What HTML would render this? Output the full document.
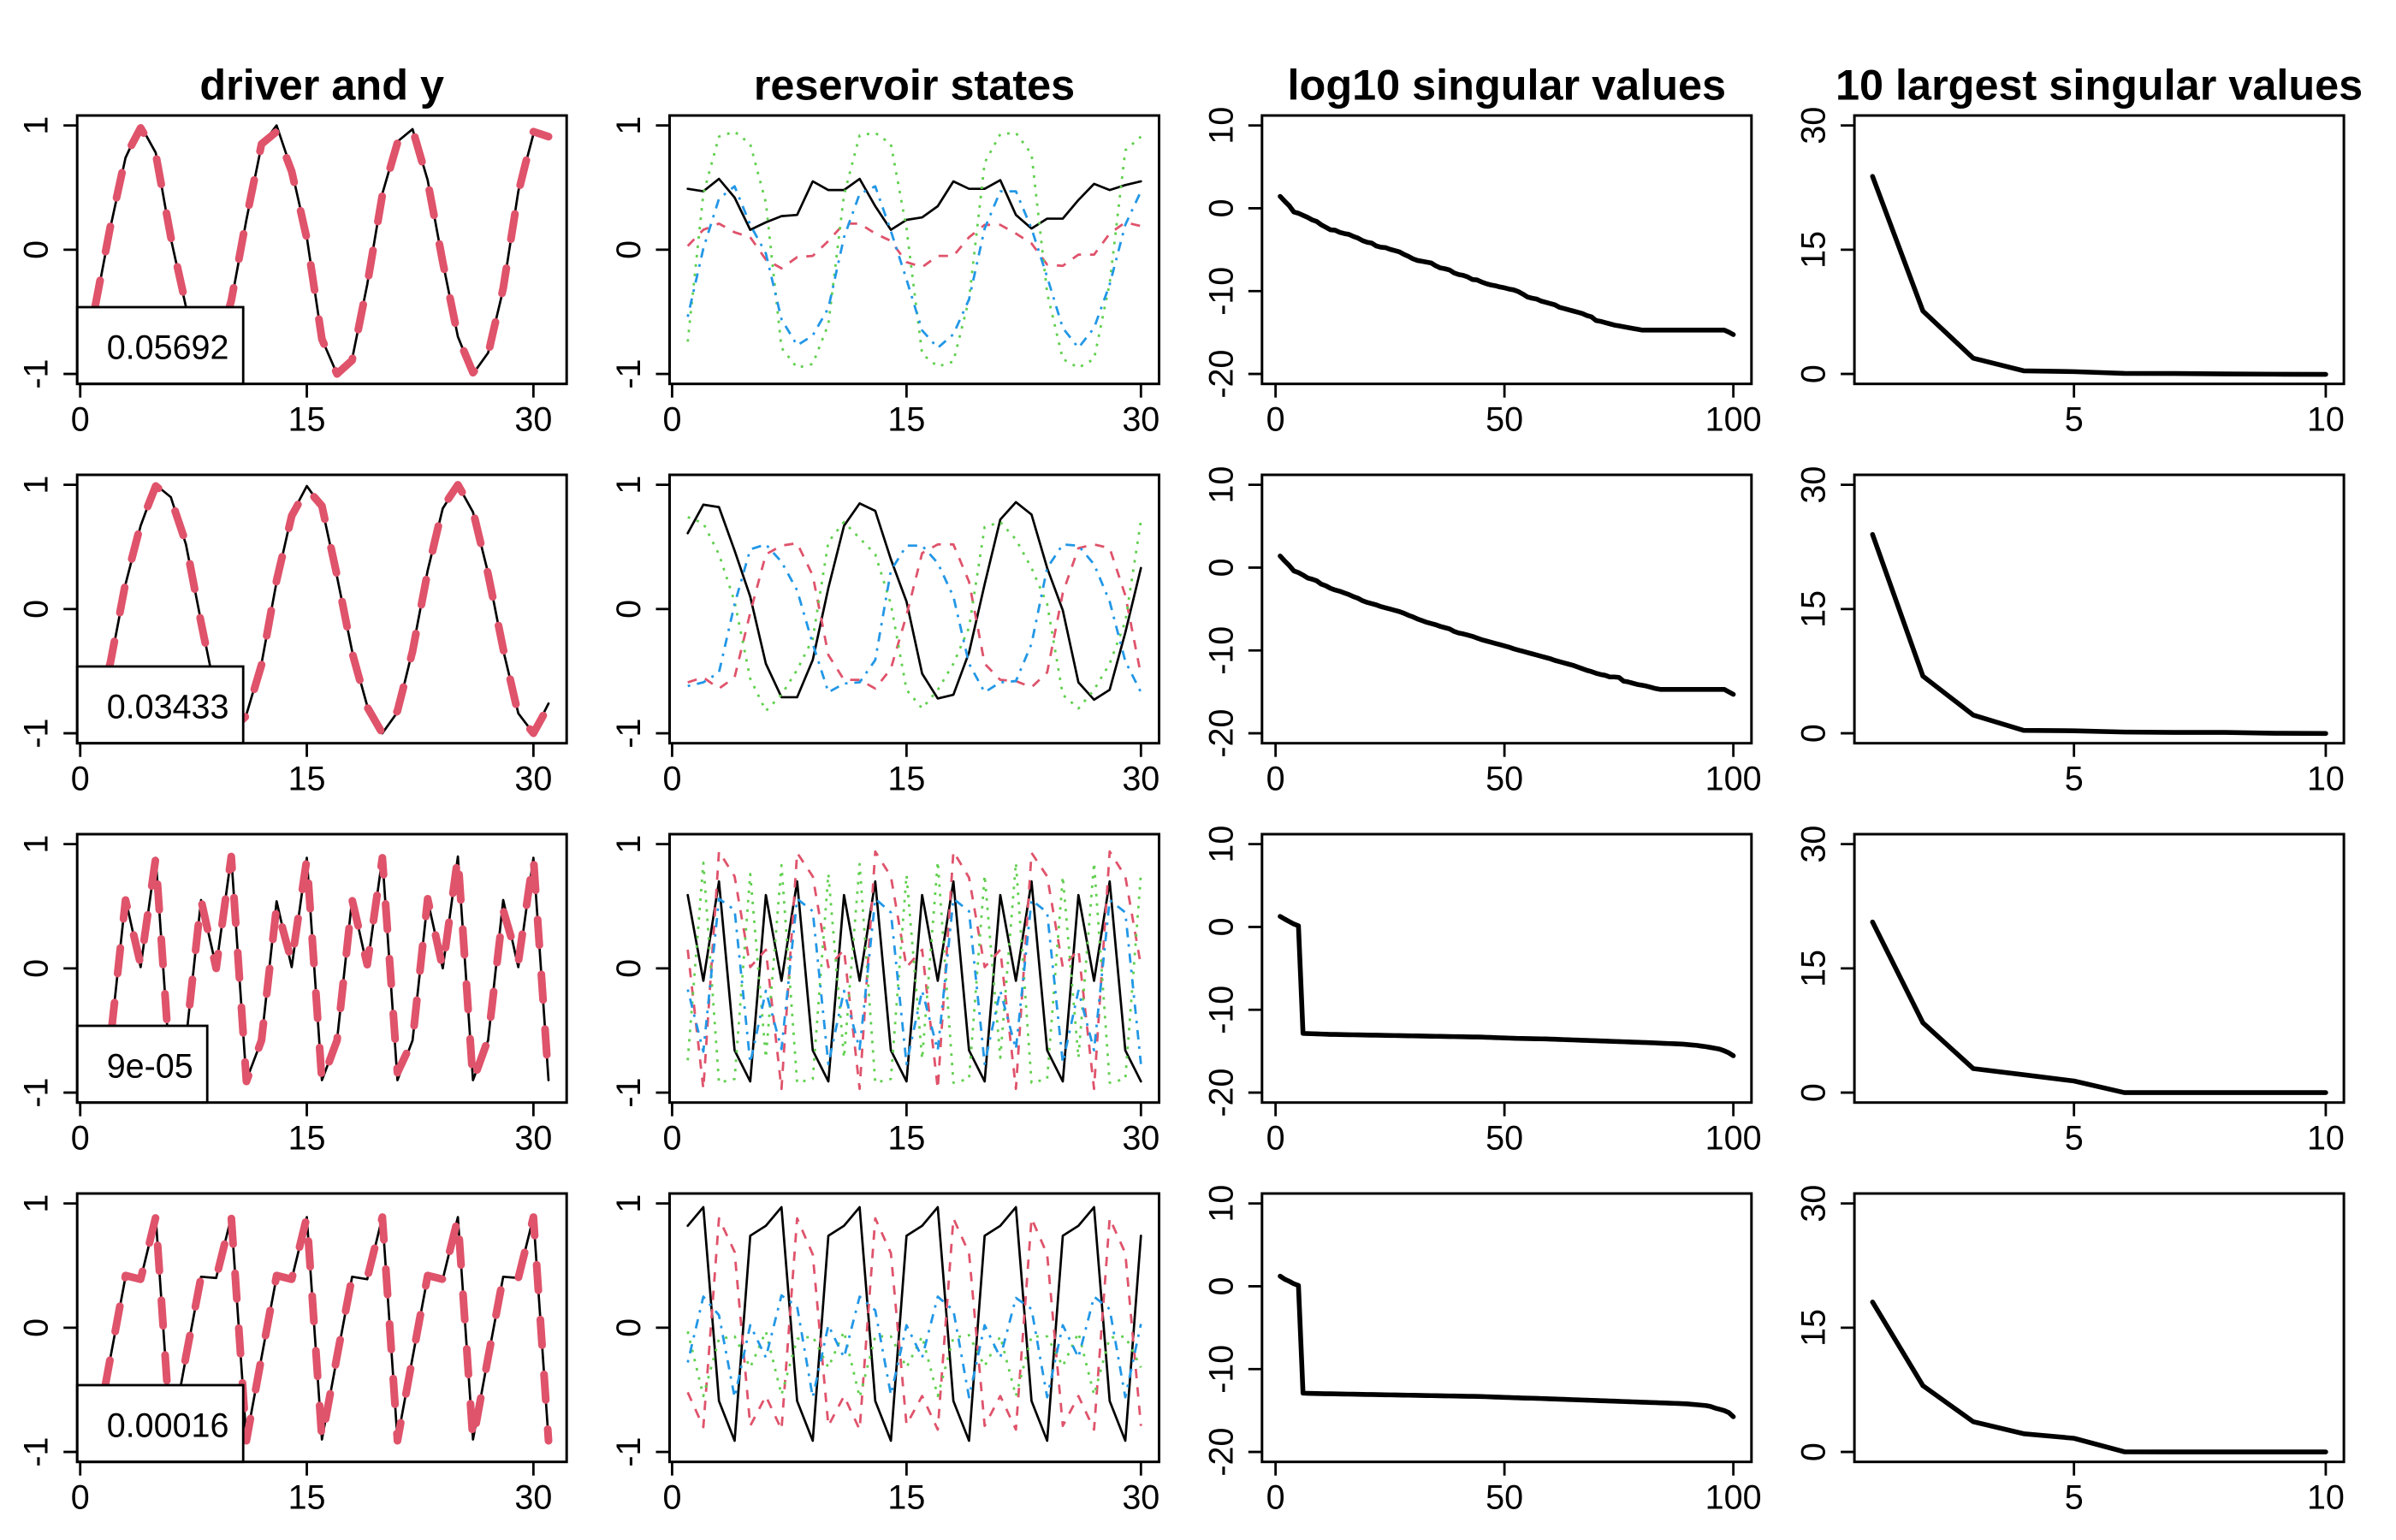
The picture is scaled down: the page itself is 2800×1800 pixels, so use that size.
<!DOCTYPE html>
<html>
<head>
<meta charset="utf-8">
<title>Reservoir panels</title>
<style>
html,body{margin:0;padding:0;background:#fff;width:2800px;height:1800px;overflow:hidden}
svg{display:block}
text{font-family:"Liberation Sans",Arial,sans-serif;fill:#000}
</style>
</head>
<body>
<svg id="chart" xmlns="http://www.w3.org/2000/svg" width="2800" height="1800" viewBox="0 0 2800 1800"></svg>
<script>
const columnTitles = ["driver and y", "reservoir states", "log10 singular values", "10 largest singular values"];
const legendValues = ["0.05692", "0.03433", "9e-05", "0.00016"];
const xTicksDriver = [0, 15, 30];
const xTicksStates = [0, 15, 30];
const xTicksLog = [0, 50, 100];
const xTicksTop = [5, 10];
const yTicksUnit = [-1, 0, 1];
const yTicksLog = [-20, -10, 0, 10];
const yTicksTop = [0, 15, 30];

const driverRow1 = [-.46,.18,.74,1,.78,.09,-.46,-.95,-.85,-.42,.24,.84,1,.64,.1,-.72,-1,-.88,-.28,.45,.87,.97,.56,-.1,-.7,-1,-.83,-.32,.47,.93,.92];
const predRow1 = [-.45,.19,.75,.98,.77,.1,-.45,-.94,-.84,-.41,.25,.85,.95,.63,.09,-.72,-1,-.89,-.28,.44,.86,.97,.55,-.1,-.7,-.99,-.84,-.31,.46,.95,.91];
const driverRow2 = [-.9,-.44,.2,.67,1,.9,.52,-.1,-.7,-.98,-.85,-.44,.22,.76,.99,.82,.26,-.34,-.78,-1,-.83,-.33,.31,.81,1,.78,.29,-.33,-.84,-1,-.76];
const predRow2 = [-.89,-.43,.21,.68,.99,.89,.53,-.11,-.7,-.97,-.86,-.45,.23,.75,.97,.83,.27,-.35,-.79,-1,-.82,-.34,.3,.82,1,.79,.28,-.32,-.85,-1,-.78];
const driverRow3 = [-.9,-.58,.56,.01,.89,-.9,-.58,.55,.01,.9,-.9,-.58,.54,.01,.89,-.9,-.58,.56,.01,.89,-.9,-.58,.55,0,.9,-.9,-.58,.55,.01,.89,-.9];
const predRow3 = [-.9,-.58,.55,.03,.89,-.9,-.57,.55,0,.9,-.91,-.58,.5,.05,.88,-.91,-.58,.55,.03,.89,-.84,-.58,.56,0,.9,-.91,-.57,.47,.05,.89,-.9];
const driverRow4 = [-.9,-.24,.41,.39,.89,-.9,-.24,.41,.4,.89,-.9,-.24,.41,.39,.89,-.9,-.24,.41,.39,.89,-.9,-.24,.41,.39,.89,-.9,-.24,.41,.4,.89,-.9];
const predRow4 = [-.9,-.24,.42,.39,.89,-.9,-.23,.41,.4,.89,-.91,-.24,.42,.39,.89,-.9,-.23,.41,.4,.89,-.91,-.24,.42,.39,.88,-.91,-.24,.41,.4,.89,-.91];

const statesRow1Black = [.49,.47,.57,.42,.16,.22,.27,.28,.55,.48,.48,.57,.35,.16,.24,.26,.35,.55,.49,.49,.56,.28,.17,.25,.25,.4,.53,.48,.52,.55];
const statesRow1Red = [.03,.16,.21,.14,.1,-.08,-.15,-.06,-.05,.07,.21,.21,.13,.07,-.1,-.14,-.05,-.05,.1,.2,.2,.13,.05,-.12,-.13,-.04,-.04,.13,.22,.19];
const statesRow1Green = [-.74,.45,.91,.95,.85,.38,-.79,-.95,-.92,-.6,.44,.92,.94,.85,.17,-.84,-.94,-.9,-.4,.7,.93,.94,.77,-.35,-.88,-.95,-.88,-.27,.8,.91];
const statesRow1Blue = [-.54,.01,.41,.51,.2,-.03,-.56,-.77,-.69,-.47,.1,.45,.51,.15,-.24,-.65,-.79,-.68,-.4,.17,.47,.47,.17,-.22,-.63,-.79,-.63,-.28,.2,.47];
const statesRow2Black = [.61,.84,.82,.47,.1,-.44,-.71,-.71,-.41,.17,.67,.85,.79,.4,.06,-.52,-.72,-.69,-.35,.2,.72,.86,.76,.33,-.01,-.59,-.73,-.65,-.19,.33];
const statesRow2Red = [-.59,-.55,-.64,-.55,-.03,.44,.51,.53,.27,-.37,-.57,-.57,-.64,-.48,-.05,.45,.52,.52,.22,-.44,-.57,-.58,-.63,-.51,.13,.49,.52,.49,.11,-.53];
const statesRow2Green = [.74,.69,.44,.06,-.56,-.82,-.69,-.49,-.24,.54,.7,.57,.44,.04,-.65,-.8,-.65,-.44,-.15,.66,.7,.56,.33,.04,-.69,-.8,-.65,-.44,-.1,.71];
const statesRow2Blue = [-.62,-.59,-.51,.04,.48,.52,.38,.15,-.28,-.67,-.6,-.59,-.41,.31,.51,.51,.37,.1,-.44,-.67,-.59,-.58,-.28,.33,.52,.51,.36,.06,-.42,-.67];
const statesRow3Black = [.59,-.1,.7,-.66,-.91,.59,-.1,.7,-.66,-.91,.59,-.1,.7,-.66,-.91,.59,-.1,.7,-.66,-.91,.59,-.1,.7,-.66,-.91,.59,-.1,.7,-.66,-.91];
const statesRow3Red = [.15,-.97,.94,.74,.01,.15,-.97,.93,.74,.01,.15,-.97,.94,.74,.01,.15,-.97,.94,.73,.01,.15,-.97,.93,.74,.01,.15,-.97,.94,.74,.02];
const statesRow3Green = [-.74,.85,-.92,-.89,.76,-.72,.83,-.92,-.89,.76,-.72,.84,-.92,-.89,.75,-.73,.86,-.92,-.89,.75,-.72,.85,-.92,-.89,.74,-.72,.85,-.92,-.89,.76];
const statesRow3Blue = [-.17,-.67,.56,.47,-.76,-.18,-.65,.56,.46,-.77,-.18,-.65,.56,.45,-.77,-.18,-.66,.56,.46,-.77,-.18,-.65,.55,.45,-.76,-.18,-.66,.55,.45,-.77];
const statesRow4Black = [.82,.97,-.59,-.91,.74,.82,.97,-.59,-.91,.74,.82,.97,-.59,-.91,.74,.82,.97,-.59,-.91,.74,.82,.97,-.59,-.91,.74,.82,.97,-.59,-.91,.74];
const statesRow4Red = [-.52,-.8,.88,.61,-.79,-.55,-.82,.88,.59,-.79,-.55,-.82,.88,.6,-.78,-.55,-.82,.88,.6,-.79,-.55,-.82,.88,.59,-.79,-.55,-.82,.88,.6,-.79];
const statesRow4Green = [-.03,-.55,-.09,-.07,-.32,-.03,-.54,-.09,-.07,-.32,-.03,-.56,-.07,-.07,-.32,-.07,-.55,-.08,-.06,-.31,-.07,-.55,-.07,-.07,-.31,-.04,-.54,-.08,-.07,-.32];
const statesRow4Blue = [-.28,.25,.1,-.56,.02,-.24,.26,.17,-.56,.02,-.24,.25,.14,-.54,.02,-.24,.25,.14,-.56,.02,-.24,.24,.15,-.56,.02,-.24,.25,.15,-.56,.03];

const logRow1 = [1.44,.85,.3,-.45,-.6,-.85,-1.1,-1.4,-1.6,-2,-2.3,-2.6,-2.65,-2.9,-3.05,-3.15,-3.4,-3.6,-3.9,-4.1,-4.2,-4.55,-4.7,-4.75,-4.95,-5.1,-5.25,-5.55,-5.8,-6.1,-6.3,-6.4,-6.5,-6.6,-6.95,-7.2,-7.3,-7.45,-7.8,-8,-8.1,-8.3,-8.6,-8.65,-8.9,-9.1,-9.25,-9.35,-9.5,-9.6,-9.75,-9.85,-10.05,-10.35,-10.7,-10.85,-10.95,-11.2,-11.35,-11.5,-11.65,-11.95,-12.1,-12.25,-12.4,-12.55,-12.7,-12.95,-13.1,-13.55,-13.65,-13.8,-13.95,-14.1,-14.2,-14.3,-14.4,-14.5,-14.6,-14.7,-14.7,-14.7,-14.7,-14.7,-14.7,-14.7,-14.7,-14.7,-14.7,-14.7,-14.7,-14.7,-14.7,-14.7,-14.7,-14.7,-14.7,-14.7,-14.95,-15.25];
const logRow2 = [1.4,.8,.25,-.4,-.6,-.9,-1.25,-1.4,-1.6,-2,-2.2,-2.5,-2.7,-2.85,-3.05,-3.25,-3.5,-3.7,-4,-4.2,-4.35,-4.5,-4.7,-4.85,-5,-5.15,-5.3,-5.5,-5.75,-5.95,-6.2,-6.4,-6.6,-6.75,-6.9,-7.1,-7.25,-7.4,-7.7,-7.9,-8,-8.15,-8.3,-8.5,-8.7,-8.85,-9,-9.15,-9.3,-9.45,-9.6,-9.8,-9.95,-10.1,-10.25,-10.4,-10.55,-10.7,-10.85,-11,-11.2,-11.35,-11.5,-11.65,-11.8,-12,-12.2,-12.4,-12.55,-12.75,-12.9,-13,-13.2,-13.2,-13.25,-13.7,-13.8,-13.95,-14.1,-14.2,-14.3,-14.45,-14.6,-14.7,-14.7,-14.7,-14.7,-14.7,-14.7,-14.7,-14.7,-14.7,-14.7,-14.7,-14.7,-14.7,-14.7,-14.7,-15,-15.3];
const logRow3 = [1.27,.95,.65,.35,.14,-12.85,-12.87,-12.89,-12.91,-12.93,-12.95,-12.97,-12.98,-12.99,-13,-13.01,-13.02,-13.03,-13.04,-13.05,-13.06,-13.07,-13.08,-13.09,-13.1,-13.11,-13.12,-13.13,-13.14,-13.15,-13.16,-13.17,-13.18,-13.19,-13.2,-13.21,-13.22,-13.23,-13.24,-13.25,-13.26,-13.27,-13.28,-13.29,-13.3,-13.32,-13.34,-13.36,-13.38,-13.4,-13.42,-13.44,-13.46,-13.47,-13.48,-13.49,-13.5,-13.51,-13.52,-13.54,-13.56,-13.58,-13.6,-13.62,-13.64,-13.66,-13.68,-13.7,-13.72,-13.74,-13.76,-13.78,-13.8,-13.82,-13.84,-13.86,-13.88,-13.9,-13.92,-13.94,-13.96,-13.98,-14,-14.03,-14.06,-14.08,-14.1,-14.12,-14.15,-14.2,-14.25,-14.3,-14.38,-14.45,-14.55,-14.65,-14.75,-14.95,-15.2,-15.55];
const logRow4 = [1.22,.85,.6,.3,.1,-12.9,-12.92,-12.94,-12.95,-12.96,-12.97,-12.98,-12.99,-13,-13.01,-13.02,-13.03,-13.04,-13.05,-13.06,-13.07,-13.08,-13.09,-13.1,-13.11,-13.12,-13.13,-13.14,-13.15,-13.16,-13.17,-13.18,-13.19,-13.2,-13.21,-13.22,-13.23,-13.24,-13.25,-13.26,-13.27,-13.28,-13.29,-13.3,-13.31,-13.33,-13.35,-13.37,-13.39,-13.41,-13.43,-13.45,-13.47,-13.49,-13.5,-13.51,-13.53,-13.55,-13.57,-13.59,-13.61,-13.63,-13.65,-13.67,-13.69,-13.71,-13.73,-13.75,-13.77,-13.79,-13.81,-13.83,-13.85,-13.87,-13.89,-13.91,-13.93,-13.95,-13.97,-13.99,-14.01,-14.03,-14.05,-14.07,-14.09,-14.11,-14.13,-14.15,-14.18,-14.2,-14.25,-14.3,-14.35,-14.4,-14.5,-14.7,-14.85,-15,-15.25,-15.75];

const topRow1 = [23.85,7.6,1.9,.38,.28,.07,.05,0,-.03,-.05];
const topRow2 = [24,6.9,2.2,.35,.3,.15,.1,.1,0,-.02];
const topRow3 = [20.6,8.43,2.9,2.16,1.4,0,0,0,0,0];
const topRow4 = [18.1,8,3.65,2.2,1.65,.02,0,0,0,0];

const driverRows = [[driverRow1,predRow1],[driverRow2,predRow2],[driverRow3,predRow3],[driverRow4,predRow4]];
const stateRows = [
  [statesRow1Black,statesRow1Red,statesRow1Green,statesRow1Blue],
  [statesRow2Black,statesRow2Red,statesRow2Green,statesRow2Blue],
  [statesRow3Black,statesRow3Red,statesRow3Green,statesRow3Blue],
  [statesRow4Black,statesRow4Red,statesRow4Green,statesRow4Blue]
];
const logRows = [logRow1,logRow2,logRow3,logRow4];
const topRows = [topRow1,topRow2,topRow3,topRow4];

const SVGNS = "http://www.w3.org/2000/svg";
const root = document.getElementById("chart");
const BOX_W = 572, BOX_H = 313.7, LEFT0 = 90.2, COL_PITCH = 692.3, TOP0 = 135, ROW_PITCH = 420;
const FS_TICK = 39.5, FS_TITLE = 50.4, FS_LEGEND = 39.5;

function make(tag, attrs, parent){
  const e = document.createElementNS(SVGNS, tag);
  for (const k in attrs) e.setAttribute(k, attrs[k]);
  parent.appendChild(e);
  return e;
}
function extended(lo, hi){
  const pad = (hi - lo) * 0.04;
  return [lo - pad, hi + pad];
}
function axisFns(box, xr, yr){
  return {
    x: v => box.x + (v - xr[0]) / (xr[1] - xr[0]) * box.w,
    y: v => box.y + box.h - (v - yr[0]) / (yr[1] - yr[0]) * box.h
  };
}
function drawSeries(group, values, ax, style, name){
  const d = values.map((v, i) => (i ? "L" : "M") + ax.x(i + 1).toFixed(2) + " " + ax.y(v).toFixed(2)).join("");
  const p = make("path", {d: d, fill: "none", stroke: style.color, "stroke-width": style.width, "stroke-linecap": style.cap || "round", "stroke-linejoin": "round"}, group);
  if (style.dash) p.setAttribute("stroke-dasharray", style.dash);
  
  
  return p;
}
function drawAxes(group, box, ax, xTicks, yTicks){
  xTicks.forEach(t => {
    const px = ax.x(t);
    const tick = make("line", {x1: px, x2: px, y1: box.y + box.h, y2: box.y + box.h + 16, stroke: "#000", "stroke-width": 2.8}, group);
    
    
    const lab = make("text", {x: px, y: box.y + box.h + 54.6, "text-anchor": "middle", "font-size": FS_TICK}, group);
    lab.textContent = String(t);
    
    
  });
  yTicks.forEach(t => {
    const py = ax.y(t);
    const tick = make("line", {x1: box.x - 16, x2: box.x, y1: py, y2: py, stroke: "#000", "stroke-width": 2.8}, group);
    
    
    const bx = box.x - 34.5;
    const lab = make("text", {x: bx, y: py, transform: "rotate(-90 " + bx + " " + py + ")", "text-anchor": "middle", "font-size": FS_TICK}, group);
    lab.textContent = String(t);
    
    
  });
}
function drawFrame(group, box){
  const f = make("rect", {x: box.x, y: box.y, width: box.w, height: box.h, fill: "none", stroke: "#000", "stroke-width": 3}, group);
  
  
}
function panelBox(row, col){
  return {x: LEFT0 + col * COL_PITCH, y: TOP0 + row * ROW_PITCH, w: BOX_W, h: BOX_H};
}
function panelGroup(row, col, name){
  const g = make("g", {}, root);
  
  
  return g;
}

columnTitles.forEach((t, col) => {
  const box = panelBox(0, col);
  const el = make("text", {x: box.x + box.w / 2, y: 116.7, "text-anchor": "middle", "font-size": FS_TITLE, "font-weight": "bold"}, root);
  el.textContent = t;
  
  
});

for (let row = 0; row < 4; row++) {
  // Column 1: driver and y, with error legend
  {
    const box = panelBox(row, 0);
    const g = panelGroup(row, 0, "driver-panel-row-" + (row + 1));
    const ax = axisFns(box, extended(1, 31), extended(-1, 1));
    drawSeries(g, driverRows[row][0], ax, {color: "#000", width: 2.7}, "driver-line");
    drawSeries(g, driverRows[row][1], ax, {color: "#DF536B", width: 9, dash: "30 34.2"}, "y-prediction-line");
    drawAxes(g, box, ax, xTicksDriver, yTicksUnit);
    const lw = row === 2 ? 152 : 194;
    const lg = make("rect", {x: box.x, y: box.y + box.h - 89.7, width: lw, height: 89.7, fill: "#fff", stroke: "#000", "stroke-width": 2.8}, g);
    
    
    const lt = make("text", {x: box.x + 34.5, y: box.y + box.h - 29, "font-size": FS_LEGEND}, g);
    lt.textContent = legendValues[row];
    
    
    drawFrame(g, box);
  }
  // Column 2: reservoir states
  {
    const box = panelBox(row, 1);
    const g = panelGroup(row, 1, "states-panel-row-" + (row + 1));
    const ax = axisFns(box, extended(1, 30), extended(-1, 1));
    const s = stateRows[row];
    drawSeries(g, s[0], ax, {color: "#000", width: 2.7}, "state-1-line");
    drawSeries(g, s[1], ax, {color: "#DF536B", width: 2.8, dash: "11 10.5", cap: "butt"}, "state-2-line");
    drawSeries(g, s[2], ax, {color: "#61D04F", width: 2.8, dash: "3 8", cap: "butt"}, "state-3-line");
    drawSeries(g, s[3], ax, {color: "#2297E6", width: 2.8, dash: "3 8 11 8", cap: "butt"}, "state-4-line");
    drawAxes(g, box, ax, xTicksStates, yTicksUnit);
    drawFrame(g, box);
  }
  // Column 3: log10 singular values
  {
    const box = panelBox(row, 2);
    const g = panelGroup(row, 2, "log-singular-panel-row-" + (row + 1));
    const ax = axisFns(box, extended(1, 100), extended(-20, 10));
    drawSeries(g, logRows[row], ax, {color: "#000", width: 5.6}, "log-singular-line");
    drawAxes(g, box, ax, xTicksLog, yTicksLog);
    drawFrame(g, box);
  }
  // Column 4: top 10 singular values
  {
    const box = panelBox(row, 3);
    const g = panelGroup(row, 3, "top-singular-panel-row-" + (row + 1));
    const ax = axisFns(box, extended(1, 10), extended(0, 30));
    drawSeries(g, topRows[row], ax, {color: "#000", width: 5.6}, "top-singular-line");
    drawAxes(g, box, ax, xTicksTop, yTicksTop);
    drawFrame(g, box);
  }
}
</script>
</body>
</html>
